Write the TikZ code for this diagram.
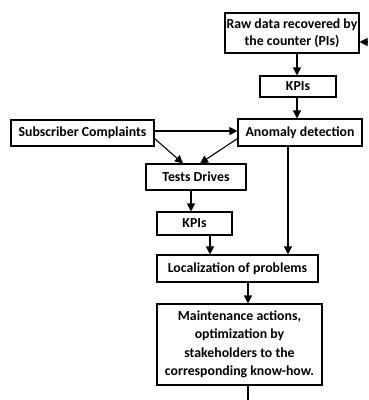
\documentclass[tikz,border=0pt]{standalone}
\usepackage{fontspec}
\setmainfont{Carlito}
\usetikzlibrary{arrows.meta,calc}
\begin{document}
\begin{tikzpicture}[x=1pt,y=-1pt,
  box/.style={draw,line width=1.1pt,inner sep=0pt,align=center,
    font=\fontsize{13.8}{18.5}\selectfont\bfseries},
  link/.style={line width=1.1pt,-{Triangle[length=8pt,width=8pt]}}]
\useasboundingbox (0,0) rectangle (368,400);
\node[box,minimum width=134pt,minimum height=40pt] (raw) at (292,33)
  {Raw data recovered by\\[-1.5pt]the counter (PIs)};
\node[box,minimum width=76pt,minimum height=21pt] (kpa) at (298,86.5) {KPIs};
\node[box,minimum width=143pt,minimum height=26pt] (sub) at (82.5,133) {Subscriber Complaints};
\node[box,minimum width=124pt,minimum height=27pt] (anom) at (300,132.5) {Anomaly detection};
\node[box,minimum width=100pt,minimum height=26pt] (test) at (196,177) {Tests Drives};
\node[box,minimum width=75pt,minimum height=23pt] (kpb) at (194.5,223.5) {KPIs};
\node[box,minimum width=161pt,minimum height=27pt] (loc) at (237.5,268.5) {Localization of problems};
\node[box,minimum width=165pt,minimum height=81pt] (mnt) at (239.5,344.5)
  {Maintenance actions,\\optimization by\\stakeholders to the\\corresponding know-how.};
\coordinate (rin) at (368,42);
\coordinate (mout) at (248,400);
% connectors
\draw[link] (rin) -- (rin -| raw.east);
\draw[link] (raw.south -| 297,0) -- (kpa.north -| 297,0);
\draw[link] (kpa.south -| 297,0) -- (anom.north -| 297,0);
\draw[link] (sub.east |- 0,131) -- (anom.west |- 0,131);
\draw[link] ([yshift=8pt]sub.south east) -- ([xshift=-13pt]test.north);
\draw[link] ([yshift=8pt]anom.south west) -- ([xshift=4pt]test.north);
\draw[link] (test.south -| 191,0) -- (kpb.north -| 191,0);
\draw[link] (kpb.south -| 210,0) -- (loc.north -| 210,0);
\draw[link] (anom.south -| 288,0) -- (loc.north -| 288,0);
\draw[link] (loc.south -| 248,0) -- (mnt.north -| 248,0);
\draw[line width=1.1pt] (mnt.south -| mout) -- (mout);
\end{tikzpicture}
\end{document}
